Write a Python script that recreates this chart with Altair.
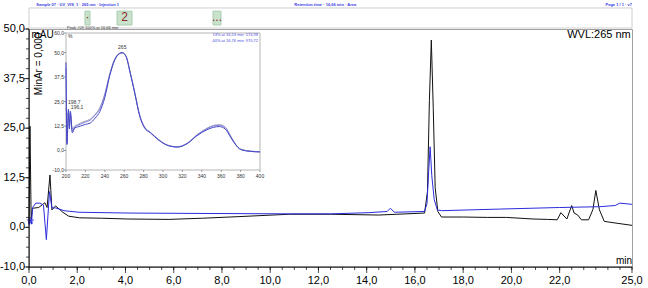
import altair as alt
import pandas as pd

FONT = "Liberation Sans"

# ---------------- chromatogram: time (min) and signal (mAU) ----------------
black_t = [0.00, 0.04, 0.09, 0.14, 0.40, 0.66, 0.75, 0.87, 0.95, 1.10,
           1.40, 1.65, 2.10, 3.00, 4.10, 5.80, 7.20, 8.70, 10.80, 12.50,
           14.50, 16.40, 16.52, 16.60, 16.68, 16.76, 16.84, 16.95, 17.10, 18.00,
           19.00, 19.80, 20.90, 21.50, 21.90, 22.05, 22.30, 22.50, 22.60, 22.75,
           22.90, 23.20, 23.38, 23.50, 23.65, 23.85, 24.30, 25.00]
black_v = [1.0, 25.5, 2.0, 4.8, 5.0, 6.2, 5.0, 13.2, 4.4, 5.4,
           3.8, 2.8, 2.4, 2.3, 2.1, 2.0, 2.3, 2.7, 3.3, 3.3,
           3.1, 3.6, 9.0, 32.0, 47.2, 30.0, 10.0, 4.0, 2.6, 2.6,
           2.5, 2.5, 2.1, 2.0, 1.9, 3.7, 2.1, 5.5, 3.6, 3.1,
           1.9, 1.9, 4.5, 9.3, 4.4, 1.5, 1.1, 0.5]

blue_t = [0.00, 0.05, 0.10, 0.15, 0.28, 0.45, 0.60, 0.72, 0.85, 0.95,
          1.10, 1.45, 2.07, 4.15, 7.05, 10.80, 12.50, 14.10, 14.85, 14.98,
          15.15, 16.40, 16.50, 16.57, 16.63, 16.70, 16.80, 16.93, 17.10, 19.50,
          22.00, 23.65, 24.30, 24.50, 25.00]
blue_v = [0.5, 2.0, 0.8, 5.0, 6.1, 6.1, 5.6, -3.1, 9.0, 4.9,
          4.9, 4.2, 3.8, 3.6, 3.5, 3.4, 3.4, 3.7, 4.0, 4.8,
          3.8, 4.0, 6.0, 14.0, 20.3, 13.0, 7.0, 4.4, 4.2, 4.6,
          5.0, 5.2, 5.5, 6.1, 5.8]

marker_t = [0.06]
marker_v = [1.6]

# ---------------- inset UV spectra: wavelength (nm) and % ----------------
spec_nm = [200, 201, 202.5, 203.5, 204.5, 206.5, 209, 212, 215, 220,
           225, 230, 235, 240, 245, 250, 255, 258, 262, 266,
           271, 276, 281, 287, 295, 305, 315, 325, 335, 345,
           352, 358, 364, 370, 375, 380, 390, 400]
spec_a = [45, 3, 21, 11, 20, 9, 11.5, 12, 12.5, 13.3,
          14, 16.5, 20, 27, 38, 46, 49.5, 50, 48, 40,
          29, 17.5, 11.5, 9, 5.5, 2.5, 1.7, 3.5, 7.5, 10.5,
          11.8, 12.2, 11, 6.5, 2.8, 0.5, -0.5, -0.8]
spec_b = [42, 4, 20, 12, 19, 10, 12, 12.8, 13.5, 14.5,
          15.5, 18, 21.5, 28.5, 38.5, 46, 49.3, 49.8, 47.8, 40,
          29, 17.8, 11.8, 9.2, 5.6, 2.6, 1.8, 3.6, 7.8, 11,
          12.5, 12.8, 11.8, 7, 3, 0.6, -0.4, -0.7]
spec_c = [22, 18, 19, 13, 18, 11, 12.5, 13.2, 14, 15,
          16, 18.5, 22, 29, 39, 46.5, 49.6, 50, 48, 40.5,
          29.5, 18, 12, 9.3, 5.8, 2.7, 1.9, 3.8, 8, 11.3,
          12.8, 13.2, 12, 7.2, 3.1, 0.7, -0.3, -0.6]

# ---------------- ticks ----------------
x_ticks = [0, 2, 4, 6, 8, 10, 12, 14, 16, 18, 20, 22, 25]
x_minor = [i * 0.5 for i in range(51)]
y_ticks = [-10, 0, 12.5, 25, 37.5, 50]
y_minor = [-10, -7.5, -5, -2.5, 0, 2.5, 5, 7.5, 10, 12.5, 15, 17.5, 20, 22.5,
           25, 27.5, 30, 32.5, 35, 37.5, 40, 42.5, 45, 47.5, 50]
inset_x_ticks = [200, 220, 240, 260, 280, 300, 320, 340, 360, 380, 400]
inset_y_ticks = [-10, 0, 12.5, 25, 37.5, 50, 60]

# ---------------- peak strip above the plot ----------------
strip_start = [2.32, 3.65, 7.63]
strip_end = [2.53, 4.27, 7.96]
strip_label = ["\u00b7", "2", "..."]


def comma(v):
    return f"{v:.1f}".replace(".", ",")


xs = alt.Scale(domain=[0, 25], nice=False, zero=False)
ys = alt.Scale(domain=[-10, 50], nice=False, zero=False)
ixs = alt.Scale(domain=[200, 400], range=[37, 231], nice=False, zero=False)
iys = alt.Scale(domain=[-10, 60], range=[141, 4], nice=False, zero=False)

one = pd.DataFrame({"k": [0]})


def X(d, scale=xs):
    return alt.XDatum(d, type="quantitative", scale=scale, axis=None)


def Y(d, scale=ys):
    return alt.YDatum(d, type="quantitative", scale=scale, axis=None)


def XF(f, scale=xs):
    return alt.X(f, type="quantitative", scale=scale, axis=None)


def YF(f, scale=ys):
    return alt.Y(f, type="quantitative", scale=scale, axis=None)


black_df = pd.DataFrame({"t": black_t, "v": black_v})
blue_df = pd.DataFrame({"t": blue_t, "v": blue_v})
marker_df = pd.DataFrame({"t": marker_t, "v": marker_v})
strip_df = pd.DataFrame({"s": strip_start, "e": strip_end, "label": strip_label})
strip_df["mid"] = (strip_df["s"] + strip_df["e"]) / 2
xt_df = pd.DataFrame({"t": x_ticks, "label": [comma(v) for v in x_ticks]})
yt_df = pd.DataFrame({"v": y_ticks, "label": [comma(v) for v in y_ticks]})

# ---- main axes drawn from the tick lists ----
x_domain = alt.Chart(one).mark_rule(color="black", strokeWidth=1).encode(
    x=X(0), x2=alt.X2Datum(25), y=Y(-10))
y_domain = alt.Chart(one).mark_rule(color="black", strokeWidth=1).encode(
    x=X(0), y=Y(-10), y2=alt.Y2Datum(50))
x_major = alt.Chart(xt_df).mark_tick(orient="vertical", size=6, thickness=1, color="black",
                                     yOffset=3).encode(x=XF("t"), y=Y(-10))
x_minor_m = alt.Chart(pd.DataFrame({"t": x_minor})).mark_tick(
    orient="vertical", size=3, thickness=1, color="black", yOffset=1.5).encode(x=XF("t"), y=Y(-10))
x_labels = alt.Chart(xt_df).mark_text(font=FONT, fontSize=11, color="black", baseline="middle",
                                      dy=14).encode(x=XF("t"), y=Y(-10), text="label:N")
y_major = alt.Chart(yt_df).mark_tick(orient="horizontal", size=5, thickness=1, color="black",
                                     xOffset=-2.5).encode(y=YF("v"), x=X(0))
y_minor_m = alt.Chart(pd.DataFrame({"v": y_minor})).mark_tick(
    orient="horizontal", size=3, thickness=1, color="black", xOffset=-1.5).encode(y=YF("v"), x=X(0))
y_labels = alt.Chart(yt_df).mark_text(font=FONT, fontSize=11, color="black", baseline="middle",
                                      align="right", dx=-4).encode(y=YF("v"), x=X(0), text="label:N")

black_line = alt.Chart(black_df).mark_line(color="#111111", strokeWidth=1).encode(
    x=XF("t"), y=YF("v"), order="t:Q")
blue_line = alt.Chart(blue_df).mark_line(color="#2b2bdc", strokeWidth=1).encode(
    x=XF("t"), y=YF("v"), order="t:Q")
star = "M0,-1L0.29,-0.4L0.95,-0.31L0.47,0.15L0.59,0.81L0,0.5L-0.59,0.81L-0.47,0.15L-0.95,-0.31L-0.29,-0.4Z"
marker = alt.Chart(marker_df).mark_point(shape=star, size=45, filled=False,
                                         color="#2b2bdc", strokeWidth=1).encode(
    x=XF("t"), y=YF("v"))

strip_frame = alt.Chart(one).mark_rect(fillOpacity=0, stroke="#cfcfcf", strokeWidth=1).encode(
    x=X(0), x2=alt.X2Datum(25), y=Y(50.25), y2=alt.Y2Datum(55.3))
strip_boxes = alt.Chart(strip_df).mark_rect(fill="#c9e2cc", stroke="#a9cdb0", strokeWidth=1).encode(
    x=XF("s"), x2="e:Q", y=Y(51.0), y2=alt.Y2Datum(54.5))
strip_text = alt.Chart(strip_df).mark_text(font=FONT, fontSize=12, color="#8b2a2a",
                                           baseline="middle").encode(
    x=XF("mid"), y=Y(52.9), text="label:N")

header1 = alt.Chart(one).mark_text(text="Sample 07 · UV_VIS_1 · 265 nm · Injection 1", font=FONT,
                                   fontSize=4, color="#3a3ae6", align="left", fontWeight="bold").encode(
    x=X(0.3), y=Y(56.0))
header2 = alt.Chart(one).mark_text(text="Retention time · 16,66 min · Area", font=FONT,
                                   fontSize=4, color="#3a3ae6", align="left", fontWeight="bold").encode(
    x=X(11.0), y=Y(56.0))
header3 = alt.Chart(one).mark_text(text="Page 1 / 1 · v7", font=FONT,
                                   fontSize=4, color="#3a3ae6", align="right", fontWeight="bold").encode(
    x=X(25), y=Y(56.0))

wvl = alt.Chart(one).mark_text(text="WVL:265 nm", font=FONT, fontSize=11, align="right",
                               baseline="middle", color="black").encode(x=X(24.95), y=Y(48.4))
mau = alt.Chart(one).mark_text(text="mAU", font=FONT, fontSize=10, align="left",
                               baseline="middle", color="black").encode(x=X(0.1), y=Y(48.4))
minar = alt.Chart(one).mark_text(text="MinAr = 0,000", font=FONT, fontSize=10, angle=270,
                                 baseline="middle", color="black").encode(x=X(0.42), y=Y(41.2))
minlab = alt.Chart(one).mark_text(text="min", font=FONT, fontSize=10, align="right",
                                  baseline="middle", color="black").encode(x=X(25), y=Y(-8.6))

main = alt.layer(strip_frame, strip_boxes, strip_text, header1, header2, header3,
                 black_line, blue_line, marker,
                 x_domain, y_domain, x_major, x_minor_m, x_labels, y_major, y_minor_m, y_labels,
                 wvl, mau, minar, minlab)

# ---------------- inset ----------------
spec_df = pd.DataFrame({"nm": spec_nm, "a": spec_a, "b": spec_b, "c": spec_c})
ixt_df = pd.DataFrame({"nm": inset_x_ticks, "label": [str(v) for v in inset_x_ticks]})
iyt_df = pd.DataFrame({"v": inset_y_ticks, "label": [comma(v) for v in inset_y_ticks]})

inset_frame = alt.Chart(one).mark_rect(fill="white", stroke="#b5b5b5", strokeWidth=1).encode(
    x=X(200, ixs), x2=alt.X2Datum(400), y=Y(-10, iys), y2=alt.Y2Datum(60))
ix_ticks = alt.Chart(ixt_df).mark_tick(orient="vertical", size=2, thickness=1, color="#777777",
                                       yOffset=1).encode(x=XF("nm", ixs), y=Y(-10, iys))
ix_labels = alt.Chart(ixt_df).mark_text(font=FONT, fontSize=5, color="#333333", baseline="middle",
                                        dy=6).encode(x=XF("nm", ixs), y=Y(-10, iys), text="label:N")
iy_ticks = alt.Chart(iyt_df).mark_tick(orient="horizontal", size=2, thickness=1, color="#777777",
                                       xOffset=-1).encode(y=YF("v", iys), x=X(200, ixs))
iy_labels = alt.Chart(iyt_df).mark_text(font=FONT, fontSize=5, color="#333333", baseline="middle",
                                        align="right", dx=-2).encode(
    y=YF("v", iys), x=X(200, ixs), text="label:N")


def spec_line(col, color):
    return alt.Chart(spec_df).mark_line(color=color, strokeWidth=1, interpolate="monotone").encode(
        x=XF("nm", ixs), y=YF(col, iys), order="nm:Q")


def itext(txt, nm, v, color="#333333", align="left", size=5):
    return alt.Chart(one).mark_text(text=txt, font=FONT, fontSize=size, color=color,
                                    align=align, baseline="middle").encode(
        x=X(nm, ixs), y=Y(v, iys))


inset = alt.layer(
    inset_frame,
    ix_ticks, ix_labels, iy_ticks, iy_labels,
    spec_line("c", "#a9a9bf"),
    spec_line("b", "#7f7fdc"),
    spec_line("a", "#4545c4"),
    itext("Peak #09      100% at 16,66 min", 201, 62.5, size=4),
    itext("%", 202, 58.5, size=5),
    itext("13% at 16,53 min: 574,98", 398, 59.0, color="#4a4ae0", align="right", size=4),
    itext("-40% at 16,76 min: 970,72", 398, 56.0, color="#4a4ae0", align="right", size=4),
    itext("265", 258, 53.0, align="center"),
    itext("198,7", 202, 25.0),
    itext("196,1", 205, 22.0),
)

chart = alt.layer(main, inset).resolve_scale(x="independent", y="independent").properties(
    width=603, height=238,
    padding={"left": 29, "top": 29, "right": 16, "bottom": 21},
    autosize=alt.AutoSizeParams(type="none"),
    background="white",
).configure_view(stroke="#a0a0a0", strokeWidth=1)

chart.save("out.html", embed_options={"renderer": "svg", "actions": False})
